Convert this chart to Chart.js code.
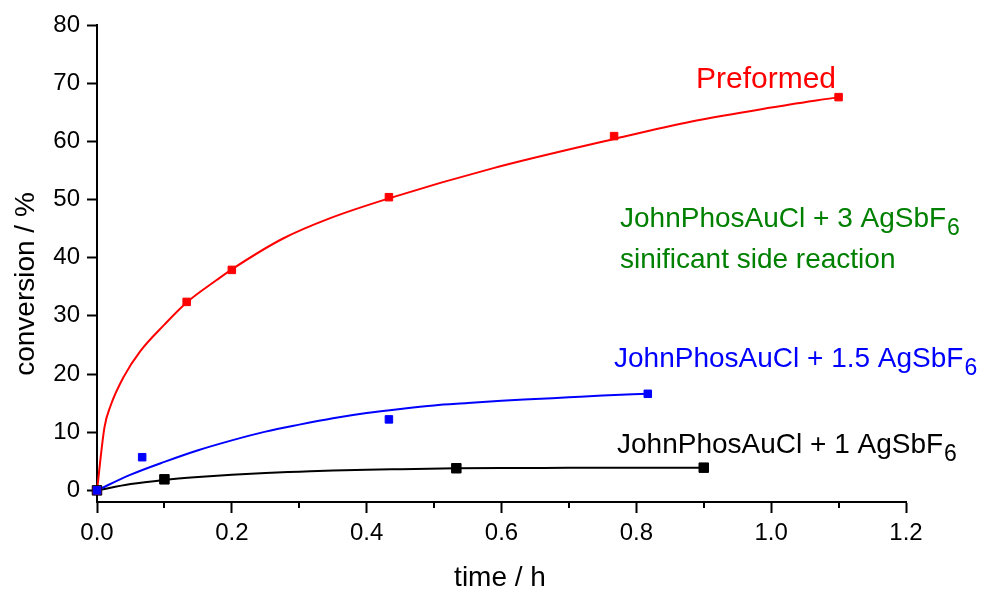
<!DOCTYPE html>
<html>
<head>
<meta charset="utf-8">
<script src="https://cdn.jsdelivr.net/npm/chart.js@4.4.1/dist/chart.umd.min.js"></script>
<style>
    html, body { margin: 0; padding: 0; background: #ffffff; }
    #contenedor { width: 982px; height: 590px; }
</style>
</head>
<body>
<div id="contenedor"><canvas id="graficoConversion"></canvas></div>
<script>
// Marcas de los ejes
const ticksX = [0, 0.2, 0.4, 0.6, 0.8, 1.0, 1.2];
const ticksXMenores = [0.1, 0.3, 0.5, 0.7, 0.9, 1.1];
const ticksY = [0, 10, 20, 30, 40, 50, 60, 70, 80];

// Preformed (puntos medidos)
const tiempoPre = [0, 0.133, 0.2, 0.433, 0.767, 1.1];
const convPre = [0, 32.4, 37.9, 50.4, 60.9, 67.6];
// Preformed (curva de ajuste)
const ajusteTiempoPre = [0, 0.011, 0.02, 0.04, 0.064, 0.1, 0.133, 0.178, 0.2, 0.276, 0.346, 0.433, 0.588, 0.767, 0.882, 1.0, 1.1];
const ajusteConvPre = [0, 10.8, 14.5, 19.6, 23.9, 28.5, 32.3, 36.2, 38.0, 43.3, 46.8, 50.2, 55.4, 60.4, 63.4, 65.8, 67.6];

// JohnPhosAuCl + 1.5 AgSbF6
const tiempo15 = [0, 0.067, 0.433, 0.817];
const conv15 = [0, 5.7, 12.2, 16.6];
const ajusteTiempo15 = [0, 0.05, 0.1, 0.15, 0.2, 0.25, 0.3, 0.35, 0.4, 0.45, 0.5, 0.55, 0.6, 0.65, 0.7, 0.75, 0.817];
const ajusteConv15 = [0, 2.7, 4.9, 6.9, 8.6, 10.1, 11.3, 12.4, 13.3, 14.0, 14.6, 15.0, 15.4, 15.7, 16.0, 16.3, 16.6];

// JohnPhosAuCl + 1 AgSbF6
const tiempo1 = [0, 0.1, 0.533, 0.9];
const conv1 = [0, 1.9, 3.8, 3.9];
const ajusteTiempo1 = [0, 0.05, 0.1, 0.15, 0.2, 0.25, 0.3, 0.35, 0.4, 0.45, 0.533, 0.6, 0.7, 0.8, 0.9];
const ajusteConv1 = [0, 1.1, 1.8, 2.3, 2.7, 3.0, 3.2, 3.4, 3.55, 3.65, 3.8, 3.85, 3.87, 3.9, 3.9];

const FUENTE = '"Liberation Sans", Arial, sans-serif';

// Convierte dos arrays en puntos {x, y}
function aPuntos(xs, ys) {
    return xs.map((x, i) => ({ x: x, y: ys[i] }));
}

function serieCurva(xs, ys, color) {
    return {
        data: aPuntos(xs, ys),
        showLine: true,
        borderColor: color,
        borderWidth: 2,
        pointRadius: 0,
        cubicInterpolationMode: 'monotone',
        clip: false
    };
}

function seriePuntos(xs, ys, color, radio) {
    return {
        data: aPuntos(xs, ys),
        showLine: false,
        pointStyle: 'rect',
        pointRadius: radio,
        backgroundColor: color,
        borderColor: color,
        pointBorderWidth: 1,
        clip: false
    };
}

// Texto con subíndice "6" al final
function textoConSub(ctx, texto, sub, x, y, tam, color) {
    ctx.fillStyle = color;
    ctx.font = tam + 'px ' + FUENTE;
    ctx.textAlign = 'left';
    ctx.textBaseline = 'alphabetic';
    ctx.fillText(texto, x, y);
    const ancho = ctx.measureText(texto).width;
    if (sub) {
        ctx.font = Math.round(tam * 0.82) + 'px ' + FUENTE;
        ctx.fillText(sub, x + ancho + 1, y + 8);
    }
}

// Plugin: ticks menores, títulos de ejes y anotaciones
const anotaciones = {
    id: 'anotaciones',
    afterDraw(chart) {
        const ctx = chart.ctx;
        const ejeX = chart.scales.x;
        const abajo = chart.chartArea.bottom;
        ctx.save();
        ctx.strokeStyle = '#000000';
        ctx.lineWidth = 2;
        ticksXMenores.forEach(v => {
            const px = Math.round(ejeX.getPixelForValue(v));
            ctx.beginPath();
            ctx.moveTo(px, abajo);
            ctx.lineTo(px, abajo + 6);
            ctx.stroke();
        });

        // Títulos de ejes
        ctx.fillStyle = '#000000';
        ctx.font = '28px ' + FUENTE;
        ctx.textAlign = 'center';
        ctx.textBaseline = 'alphabetic';
        ctx.fillText('time / h', 500, 586);
        ctx.save();
        ctx.translate(34, 284);
        ctx.rotate(-Math.PI / 2);
        ctx.fillText('conversion / %', 0, 0);
        ctx.restore();

        // Etiquetas de las series
        textoConSub(ctx, 'Preformed', '', 696, 88, 30, '#ff0000');
        textoConSub(ctx, 'JohnPhosAuCl + 3 AgSbF', '6', 620, 227, 28, '#008000');
        textoConSub(ctx, 'sinificant side reaction', '', 620, 268, 28, '#008000');
        textoConSub(ctx, 'JohnPhosAuCl + 1.5 AgSbF', '6', 614, 367, 28, '#0000ff');
        textoConSub(ctx, 'JohnPhosAuCl + 1 AgSbF', '6', 617, 453, 28, '#000000');
        ctx.restore();
    }
};

function generarGrafico() {
    const ctx = document.getElementById('graficoConversion').getContext('2d');
    new Chart(ctx, {
        type: 'scatter',
        data: {
            datasets: [
                seriePuntos(tiempo15, conv15, '#0000ff', 5.3),
                seriePuntos(tiempoPre, convPre, '#ff0000', 5.3),
                seriePuntos(tiempo1, conv1, '#000000', 6.7),
                serieCurva(ajusteTiempo15, ajusteConv15, '#0000ff'),
                serieCurva(ajusteTiempoPre, ajusteConvPre, '#ff0000'),
                serieCurva(ajusteTiempo1, ajusteConv1, '#000000')
            ]
        },
        options: {
            responsive: true,
            maintainAspectRatio: false,
            animation: false,
            layout: { padding: { top: 25, right: 76, left: 0, bottom: 0 } },
            plugins: {
                legend: { display: false },
                tooltip: { enabled: false }
            },
            scales: {
                x: {
                    type: 'linear',
                    min: 0,
                    max: 1.2,
                    afterFit: scale => { scale.height = 88; },
                    afterBuildTicks: scale => { scale.ticks = ticksX.map(v => ({ value: v })); },
                    border: { display: true, color: '#000000', width: 2 },
                    grid: { display: true, drawOnChartArea: false, drawTicks: true, tickLength: 11, tickColor: '#000000', tickWidth: 2 },
                    ticks: {
                        color: '#000000',
                        padding: 6,
                        maxRotation: 0,
                        font: { family: FUENTE, size: 24 },
                        callback: v => v.toFixed(1)
                    }
                },
                y: {
                    type: 'linear',
                    min: -2,
                    max: 80,
                    afterFit: scale => { scale.width = 97; },
                    afterBuildTicks: scale => { scale.ticks = ticksY.map(v => ({ value: v })); },
                    border: { display: true, color: '#000000', width: 2 },
                    grid: { display: true, drawOnChartArea: false, drawTicks: true, tickLength: 10, tickColor: '#000000', tickWidth: 2 },
                    ticks: {
                        color: '#000000',
                        padding: 7,
                        font: { family: FUENTE, size: 24 },
                        callback: v => String(v)
                    }
                }
            }
        },
        plugins: [anotaciones]
    });
}

document.addEventListener('DOMContentLoaded', generarGrafico);
</script>
</body>
</html>
